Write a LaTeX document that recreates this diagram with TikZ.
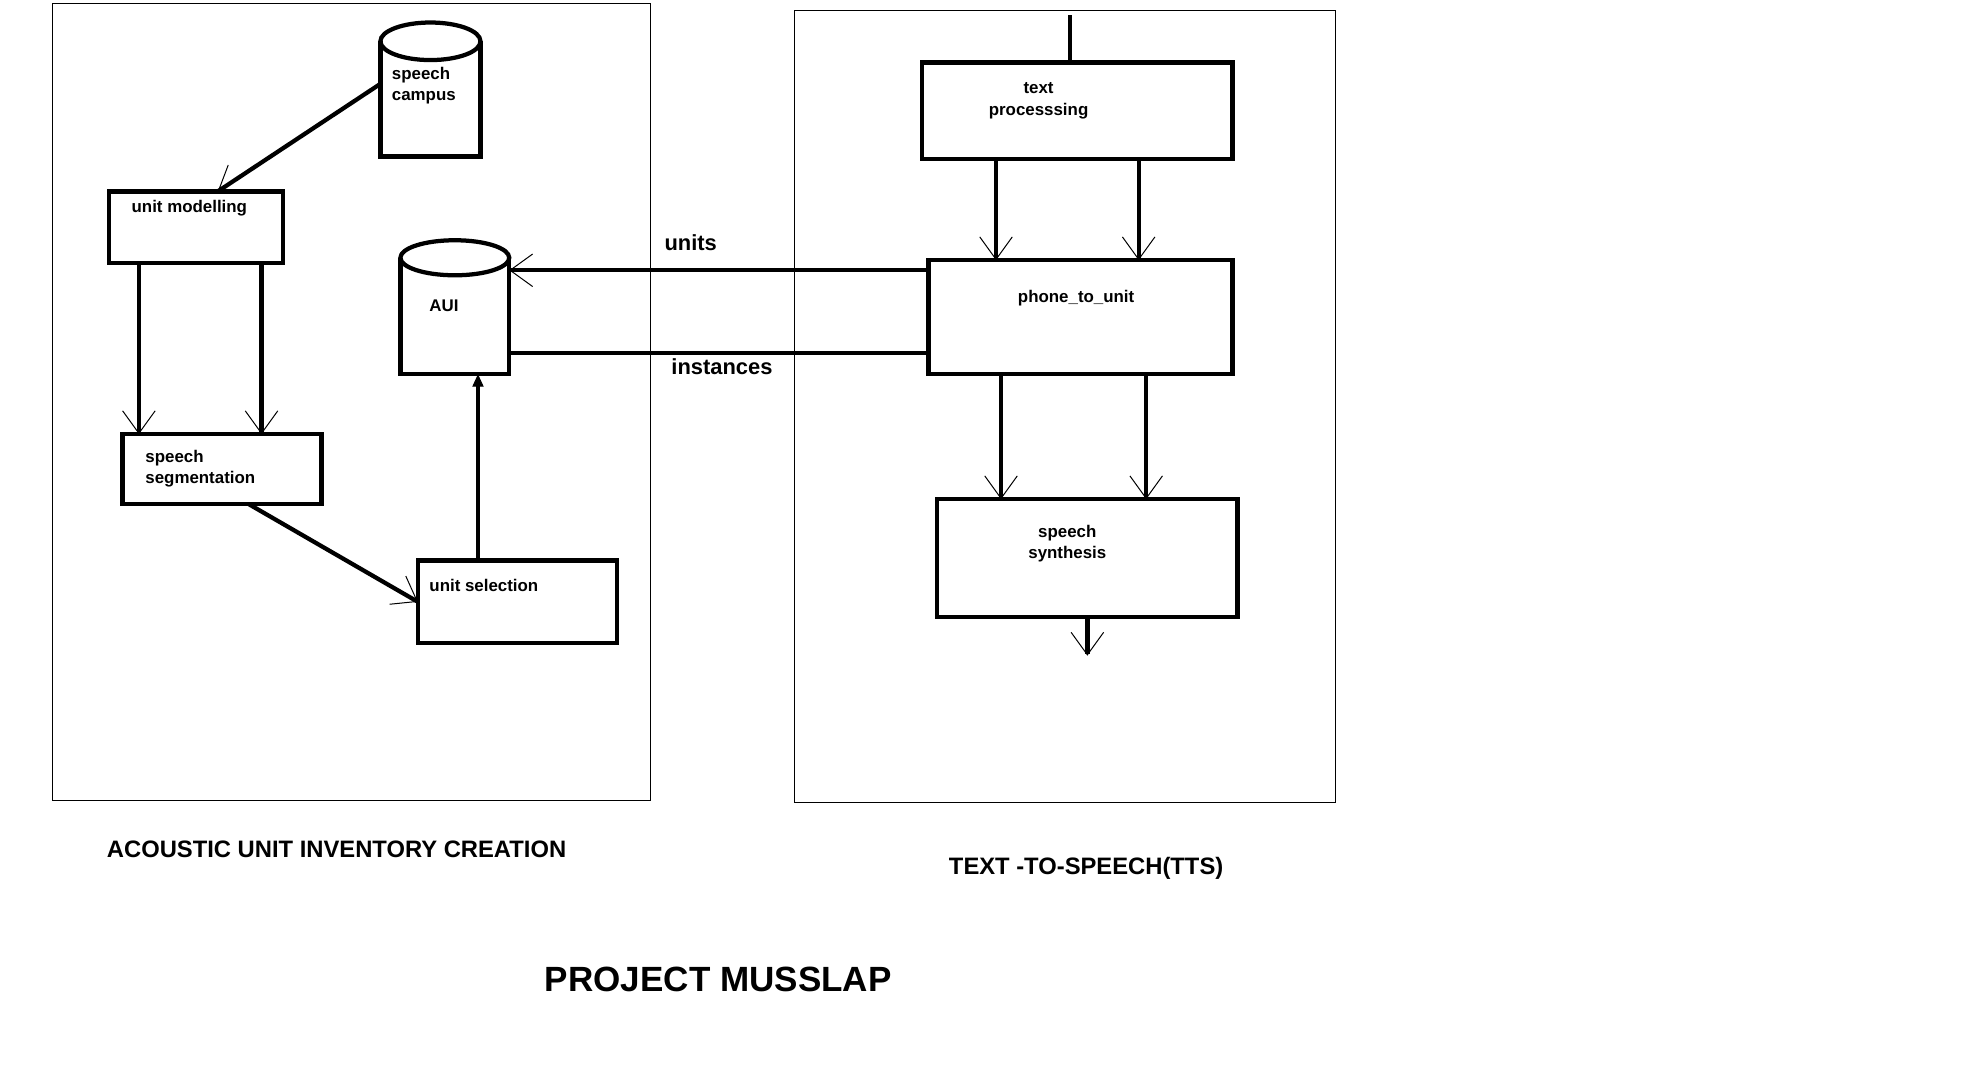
\documentclass[tikz,border=0pt]{standalone}
\usepackage{fontspec}
\setmainfont{Liberation Sans}
\usetikzlibrary{arrows.meta,calc}
\begin{document}
\begin{tikzpicture}[x=1pt,y=-1pt,
  box/.style={draw, line width=3.4pt, inner sep=0pt, outer sep=0pt, anchor=north west},
  body/.style={inner sep=0pt, outer sep=0pt, anchor=north west},
  conn/.style={line width=3.4pt},
  arr/.style={conn, -{Straight Barb[length=18pt,width=26pt,line width=0.8pt]}},
  farr/.style={conn, -{Triangle[length=10pt,width=9pt,line width=0.8pt]}},
  frame/.style={draw, line width=0.8pt, inner sep=0pt, outer sep=0pt, anchor=north west},
  small/.style={font=\bfseries\fontsize{13.5}{17}\selectfont, inner sep=0pt},
  mid/.style={font=\bfseries\fontsize{17.5}{21}\selectfont, inner sep=0pt},
  ttl/.style={font=\bfseries\fontsize{19}{23}\selectfont, inner sep=0pt},
  big/.style={font=\bfseries\fontsize{28}{32}\selectfont, inner sep=0pt}]
\fill[white] (0,0) rectangle (1568,871);
\useasboundingbox (0,0) rectangle (1568,871);

% frames
\node[frame, minimum width=478pt, minimum height=637pt] (lframe) at (42,3) {};
\node[frame, minimum width=432pt, minimum height=633pt] (rframe) at (635,8) {};

% left side
\node[body, minimum width=80pt, minimum height=92pt] (sc) at (304,33) {};
\draw[conn] (sc.north west) -- (sc.south west) -- (sc.south east) -- (sc.north east);
\draw[conn] (sc.north) ellipse [x radius=40pt, y radius=15pt];
\node[small, anchor=west, align=left] (sct) at (313,68.5) {speech\\campus};

\node[box, minimum width=139pt, minimum height=57pt] (um) at (87,153) {};
\node[small, anchor=west] (umt) at (105,166) {unit modelling};

\node[box, minimum width=159pt, minimum height=56pt] (ss) at (98,347) {};
\node[small, anchor=west, align=left] (sst) at (116,374.5) {speech\\segmentation};

\node[box, minimum width=159pt, minimum height=66pt] (us) at (334,448) {};
\node[small, anchor=west] (ust) at (343,468) {unit selection};

\node[body, minimum width=87pt, minimum height=93pt] (aui) at (320,206) {};
\draw[conn] (aui.north west) -- (aui.south west) -- (aui.south east) -- (aui.north east);
\draw[conn] (aui.north) ellipse [x radius=43.5pt, y radius=14pt];
\node[small, anchor=west] (auit) at (343,244) {AUI};

% right side
\node[box, minimum width=248pt, minimum height=77pt] (tp) at (737,50) {};
\node[small, align=center] (tpt) at (830,80.5) {text\\processsing};

\node[box, minimum width=243pt, minimum height=91pt] (ptu) at (742,208) {};
\node[small] (ptut) at (860,238) {phone\_to\_unit};

\node[box, minimum width=240pt, minimum height=94pt] (syn) at (749,399) {};
\node[small, align=center] (synt) at (853,434.5) {speech\\synthesis};

\coordinate (in) at (855,12);
\coordinate (out) at (869,524);

% connectors left
\draw[arr] ([yshift=12pt]sc.west) -- ([xshift=17.5pt]um.north);
\draw[arr] ([xshift=24pt]um.south west) -- ([xshift=24pt]um.south west |- ss.north);
\draw[arr] ([xshift=122pt]um.south west) -- ([xshift=122pt]um.south west |- ss.north);
\draw[arr] ([xshift=101pt]ss.south west) -- (us.west);
\draw[farr] ([xshift=48pt]us.north west) -- ([xshift=48pt]us.north west |- aui.south);

% connectors between
\draw[arr] ([yshift=37.5pt]ptu.west) -- ([yshift=37.5pt]ptu.west -| aui.east);
\draw[conn] ([yshift=-28.5pt]ptu.west) -- ([yshift=-28.5pt]ptu.west -| aui.east);
\node[mid] (unitsl) at (552,194) {units};
\node[mid] (instl) at (577,293) {instances};

% connectors right
\draw[conn] (in) -- (in |- tp.north);
\draw[arr] ([xshift=59pt]tp.south west) -- ([xshift=59pt]tp.south west |- ptu.north);
\draw[arr] ([xshift=173pt]tp.south west) -- ([xshift=173pt]tp.south west |- ptu.north);
\draw[arr] ([xshift=58pt]ptu.south west) -- ([xshift=58pt]ptu.south west |- syn.north);
\draw[arr] ([xshift=174pt]ptu.south west) -- ([xshift=174pt]ptu.south west |- syn.north);
\draw[arr] (syn.south) -- (out);

% titles
\node[ttl] (t1) at (269,679) {ACOUSTIC UNIT INVENTORY CREATION};
\node[ttl] (t2) at (868,694) {TEXT -TO-SPEECH(TTS)};
\node[big] (t3) at (574,783) {PROJECT MUSSLAP};
\end{tikzpicture}
\end{document}
